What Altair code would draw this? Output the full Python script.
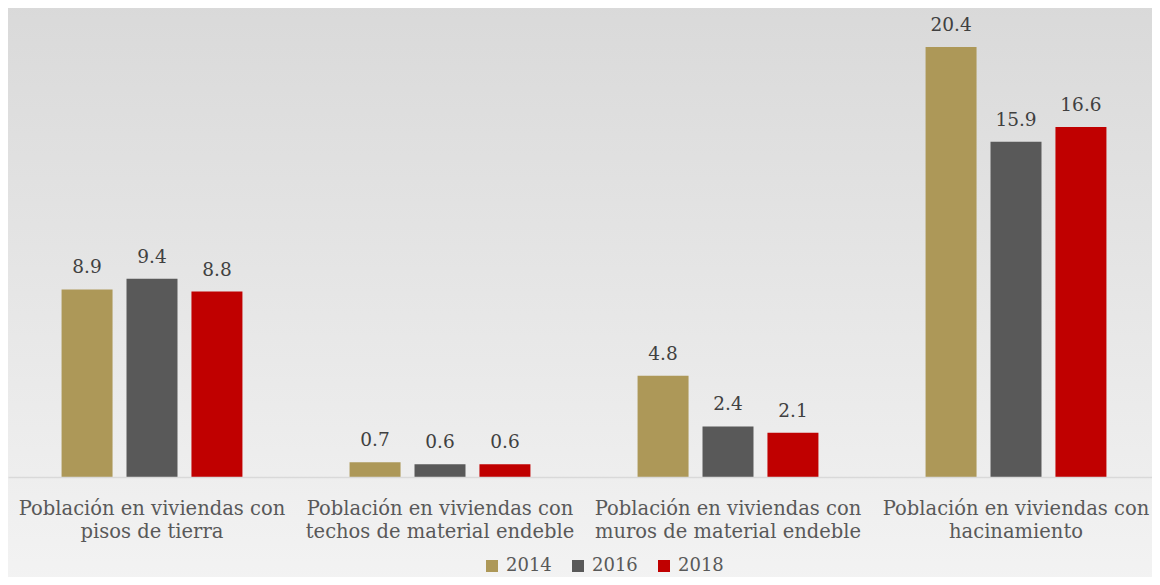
import altair as alt
import pandas as pd

categories = [
    "Población en viviendas con|pisos de tierra",
    "Población en viviendas con|techos de material endeble",
    "Población en viviendas con|muros de material endeble",
    "Población en viviendas con|hacinamiento",
]
years = ["2014", "2016", "2018"]
v2014 = [8.9, 0.7, 4.8, 20.4]
v2016 = [9.4, 0.6, 2.4, 15.9]
v2018 = [8.8, 0.6, 2.1, 16.6]
colors = ["#AD9858", "#595959", "#C00000"]

rows = []
for i, c in enumerate(categories):
    for y, vals in zip(years, [v2014, v2016, v2018]):
        rows.append({"cat": c, "year": y, "value": vals[i]})
df = pd.DataFrame(rows)

W = 1144
H = 469
FONT = "DejaVu Serif"

bg = alt.Chart(pd.DataFrame({"a": [0]})).mark_rect(
    fill=alt.LinearGradient(
        gradient="linear",
        stops=[alt.GradientStop(color="#d9d9d9", offset=0),
               alt.GradientStop(color="#f3f3f3", offset=1)],
        x1=0, x2=0, y1=0, y2=1,
    )
).encode(
    x=alt.value(-10), x2=alt.value(W + 10),
    y=alt.value(-10), y2=alt.value(H + 110),
)

x_enc = alt.X(
    "cat:N", sort=categories,
    scale=alt.Scale(range=[0, 1152], paddingInner=0.372, paddingOuter=0.186),
    axis=alt.Axis(
        title=None, labelExpr="split(datum.label, '|')", labelAngle=0,
        labelFont=FONT, labelFontSize=19.5, labelColor="#595959",
        labelLimit=500, labelOverlap=False, labelBound=False,
        labelPadding=22, labelLineHeight=23, ticks=False,
        domain=True, domainColor="#d9d9d9", domainWidth=1.5,
        grid=False, zindex=1,
    ),
)
xo_enc = alt.XOffset("year:N", sort=years,
                     scale=alt.Scale(paddingInner=0.215, paddingOuter=0))
y_enc = alt.Y("value:Q", scale=alt.Scale(domain=[0, 22.25], nice=False), axis=None)

base = alt.Chart(df)
bars = base.mark_bar().encode(
    x=x_enc, xOffset=xo_enc, y=y_enc,
    color=alt.Color(
        "year:N", sort=years,
        scale=alt.Scale(domain=years, range=colors),
        legend=alt.Legend(
            title=None, orient="none", legendX=475, legendY=549,
            direction="horizontal", symbolType="square", symbolSize=144,
            symbolStrokeWidth=0, labelFont=FONT, labelFontSize=18,
            labelColor="#595959", columnPadding=17, labelOffset=5,
            zindex=1,
        ),
    ),
)
labels = base.mark_text(
    dy=-16, baseline="alphabetic", fontSize=18.5, font=FONT, color="#404040"
).encode(
    x=x_enc, xOffset=xo_enc, y=y_enc,
    text=alt.Text("value:Q", format=".1f"),
)

chart = alt.layer(bg, bars, labels).properties(
    width=W, height=H,
    autosize=alt.AutoSizeParams(type="none"),
    padding={"left": 0, "top": 0, "right": 0, "bottom": 100},
    background="#f3f3f3",
).configure_view(stroke=None)

chart.save("out.html", embed_options={"renderer": "svg", "actions": False})
